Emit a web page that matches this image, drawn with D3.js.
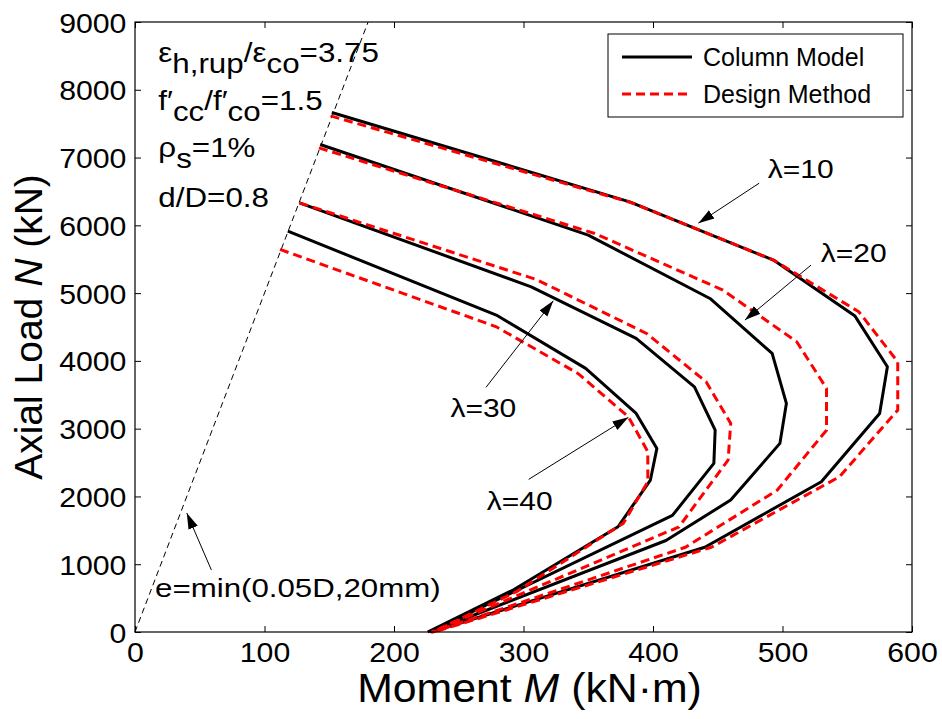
<!DOCTYPE html>
<html>
<head>
<meta charset="utf-8">
<script src="https://cdn.jsdelivr.net/npm/d3@7"></script>
<style>
    body { margin: 0; background: #fff; }
    svg text { font-family: "Liberation Sans", Arial, sans-serif; fill: #000; }
</style>
</head>
<body>
<div id="chart"></div>
<script>
// axis ticks
const xTicks = [0, 100, 200, 300, 400, 500, 600];
const yTicks = [0, 1000, 2000, 3000, 4000, 5000, 6000, 7000, 8000, 9000];

// [M (kN·m), N (kN)]
const lambda10Model  = [[152, 7665], [382, 6347], [493, 5487], [556, 4661], [581, 3913], [575, 3225], [530, 2217], [440, 1250], [229, 0]];
const lambda10Design = [[151, 7615], [384, 6330], [493, 5487], [559, 4724], [589, 3987], [589, 3274], [544, 2291], [445, 1250], [231, 0]];
const lambda20Model  = [[143, 7193], [350, 5855], [444, 4921], [492, 4110], [503, 3373], [498, 2783], [460, 1947], [410, 1350], [228, 0]];
const lambda20Design = [[142, 7143], [355, 5880], [454, 5044], [511, 4282], [534, 3594], [534, 2979], [496, 2094], [425, 1250], [230, 0]];
const lambda30Model  = [[127, 6332], [306, 5093], [387, 4332], [432, 3618], [448, 2979], [447, 2488], [415, 1720], [228, 0]];
const lambda30Design = [[127, 6332], [310, 5200], [395, 4405], [441, 3692], [460, 3078], [458, 2537], [420, 1550], [229, 0]];
const lambda40Model  = [[118, 5914], [279, 4676], [348, 3890], [387, 3225], [403, 2709], [398, 2242], [373, 1553], [292, 620], [226, 0]];
const lambda40Design = [[112, 5644], [279, 4503], [342, 3815], [381, 3175], [396, 2660], [396, 2217], [377, 1603], [295, 600], [230, 0]];

// e = min(0.05D, 20mm) reference line
const eccLine = [[0, 0], [180, 9000]];

// curve labels: text anchor [M, N], arrow tail and tip [M, N]
const curveLabels = [
    {text: "\u03bb=10", pos: [514, 6696], tail: [482, 6622], tip: [435, 6032]},
    {text: "\u03bb=20", pos: [555, 5462], tail: [522, 5413], tip: [471, 4602]},
    {text: "\u03bb=30", pos: [269, 3175], tail: [271, 3609], tip: [323, 4886]},
    {text: "\u03bb=40", pos: [297, 1799], tail: [304, 2252], tip: [381, 3167]}
];
const eccLabel = {text: "e=min(0.05D,20mm)", pos: [236, 521], tail: [59, 914], tip: [40, 1755]};

// parameter block baselines (N) at M = 18
const paramRows = [8411, 7699, 7011, 6273];

const legendItems = ["Column Model", "Design Method"];

class InteractionChart {

    constructor(parentElement) {
        const vis = this;
        vis.parentElement = parentElement;
        vis.initVis();
    }

    initVis() {
        const vis = this;

        vis.margin = {top: 22, right: 30, bottom: 87, left: 135};
        vis.width = 942 - vis.margin.left - vis.margin.right;
        vis.height = 719 - vis.margin.top - vis.margin.bottom;

        vis.svg = d3.select("#" + vis.parentElement).append("svg")
            .attr("width", 942)
            .attr("height", 719)
            .append("g")
            .attr("transform", "translate(" + vis.margin.left + "," + vis.margin.top + ")");

        vis.x = d3.scaleLinear().domain([0, 600]).range([0, vis.width]);
        vis.y = d3.scaleLinear().domain([0, 9000]).range([vis.height, 0]);

        vis.svg.append("defs").append("marker")
            .attr("id", "arrow")
            .attr("viewBox", "0 -6 16 12")
            .attr("refX", 16).attr("refY", 0)
            .attr("markerUnits", "userSpaceOnUse")
            .attr("markerWidth", 16).attr("markerHeight", 12)
            .attr("orient", "auto")
            .append("path")
            .attr("d", "M0,-5L16,0L0,5Z")
            .attr("fill", "#000");

        // axes with inward ticks, matlab style box
        const fmt = d3.format("d");
        const xAxis = d3.axisBottom(vis.x).tickValues(xTicks).tickFormat(fmt).tickSizeInner(-6).tickSizeOuter(0).tickPadding(10);
        const yAxis = d3.axisLeft(vis.y).tickValues(yTicks).tickFormat(fmt).tickSizeInner(-6).tickSizeOuter(0).tickPadding(8);
        const xTop = d3.axisTop(vis.x).tickValues(xTicks).tickSizeInner(-6).tickSizeOuter(0).tickFormat("");
        const yRight = d3.axisRight(vis.y).tickValues(yTicks).tickSizeInner(-6).tickSizeOuter(0).tickFormat("");

        const gx = vis.svg.append("g").attr("transform", "translate(0," + vis.height + ")").call(xAxis);
        const gy = vis.svg.append("g").call(yAxis);
        vis.svg.append("g").call(xTop);
        vis.svg.append("g").attr("transform", "translate(" + vis.width + ",0)").call(yRight);
        vis.svg.selectAll(".domain").remove();
        vis.svg.selectAll(".tick line").attr("stroke", "#000");
        gx.selectAll("text").style("font-size", "28px").attr("transform", "scale(1.08,1)");
        gy.selectAll("text").style("font-size", "28px").attr("dy", "0.36em").attr("transform", "scale(1.08,1)");

        const line = d3.line().x(d => vis.x(d[0])).y(d => vis.y(d[1]));

        // eccentricity limit line
        vis.svg.append("path")
            .attr("d", line(eccLine))
            .attr("fill", "none")
            .attr("stroke", "#000")
            .attr("stroke-width", 1)
            .attr("stroke-dasharray", "6,4");

        const models = [lambda10Model, lambda20Model, lambda30Model, lambda40Model];
        const designs = [lambda10Design, lambda20Design, lambda30Design, lambda40Design];

        vis.svg.selectAll(".model").data(models).enter().append("path")
            .attr("class", "model")
            .attr("d", line)
            .attr("fill", "none")
            .attr("stroke", "#000")
            .attr("stroke-width", 3)
            .attr("stroke-linejoin", "round");

        vis.svg.selectAll(".design").data(designs).enter().append("path")
            .attr("class", "design")
            .attr("d", line)
            .attr("fill", "none")
            .attr("stroke", "#ff0000")
            .attr("stroke-width", 3)
            .attr("stroke-dasharray", "9,5");

        // frame
        vis.svg.append("rect")
            .attr("width", vis.width).attr("height", vis.height)
            .attr("fill", "none").attr("stroke", "#000").attr("stroke-width", 1.2);

        // annotations
        const labels = curveLabels.concat([eccLabel]);
        vis.svg.selectAll(".ann-line").data(labels).enter().append("line")
            .attr("class", "ann-line")
            .attr("x1", d => vis.x(d.tail[0])).attr("y1", d => vis.y(d.tail[1]))
            .attr("x2", d => vis.x(d.tip[0])).attr("y2", d => vis.y(d.tip[1]))
            .attr("stroke", "#000").attr("stroke-width", 1)
            .attr("marker-end", "url(#arrow)");

        vis.svg.selectAll(".ann-text").data(curveLabels).enter().append("text")
            .attr("class", "ann-text")
            .attr("transform", d => "translate(" + vis.x(d.pos[0]) + "," + vis.y(d.pos[1]) + ") scale(1.2,1)")
            .attr("text-anchor", "middle")
            .style("font-size", "25px")
            .text(d => d.text);

        vis.svg.append("text")
            .attr("transform", "translate(" + vis.x(eccLabel.pos[0]) + "," + vis.y(eccLabel.pos[1]) + ") scale(1.25,1)")
            .attr("text-anchor", "end")
            .style("font-size", "25px")
            .text(eccLabel.text);

        // parameter block
        const px = vis.x(18);
        const rows = [
            [["\u03b5", 0], ["h,rup", 1], ["/\u03b5", 0], ["co", 1], ["=3.75", 0]],
            [["f\u2032", 0], ["cc", 1], ["/f\u2032", 0], ["co", 1], ["=1.5", 0]],
            [["\u03c1", 0], ["s", 1], ["=1%", 0]],
            [["d/D=0.8", 0]]
        ];
        rows.forEach((parts, i) => {
            const t = vis.svg.append("text")
                .attr("transform", "translate(" + px + "," + vis.y(paramRows[i]) + ") scale(1.12,1)")
                .style("font-size", "28px");
            let shift = 0;
            parts.forEach(p => {
                const target = p[1] ? 11 : 0;
                t.append("tspan").attr("dy", target - shift).text(p[0]);
                shift = target;
            });
        });

        // axis titles
        const xt = vis.svg.append("text")
            .attr("transform", "translate(" + (vis.width / 2 + 6) + "," + (vis.height + 70) + ") scale(1.07,1)")
            .attr("text-anchor", "middle")
            .style("font-size", "40px");
        xt.append("tspan").text("Moment ");
        xt.append("tspan").style("font-style", "italic").text("M");
        xt.append("tspan").text(" (kN\u00b7m)");

        const yt = vis.svg.append("text")
            .attr("transform", "translate(" + (42 - vis.margin.left) + "," + (vis.height / 2) + ") rotate(-90)")
            .attr("text-anchor", "middle")
            .style("font-size", "39px");
        yt.append("tspan").text("Axial Load ");
        yt.append("tspan").style("font-style", "italic").text("N");
        yt.append("tspan").text(" (kN)");

        // legend
        const lg = vis.svg.append("g").attr("transform", "translate(" + (vis.width - 304) + ",12)");
        lg.append("rect").attr("width", 295).attr("height", 83)
            .attr("fill", "#fff").attr("stroke", "#000").attr("stroke-width", 1);
        const rowsL = lg.selectAll(".leg").data(legendItems).enter().append("g")
            .attr("transform", (d, i) => "translate(0," + (23 + i * 37) + ")");
        rowsL.append("line")
            .attr("x1", 14).attr("x2", 84)
            .attr("stroke", (d, i) => i ? "#ff0000" : "#000")
            .attr("stroke-width", 3)
            .attr("stroke-dasharray", (d, i) => i ? "9,5" : null);
        rowsL.append("text")
            .attr("x", 95).attr("dy", "0.36em")
            .style("font-size", "25px")
            .text(d => d);
    }
}

new InteractionChart("chart");
</script>
</body>
</html>
